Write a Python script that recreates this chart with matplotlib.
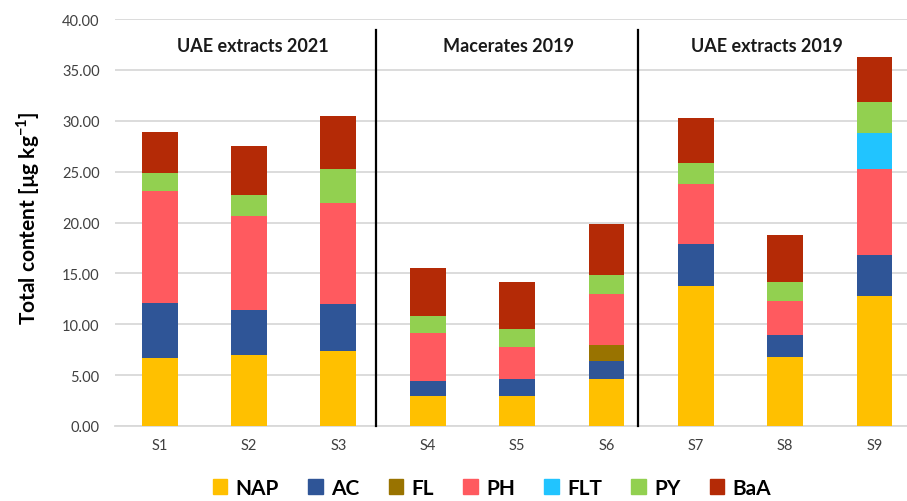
import numpy as np
import matplotlib
matplotlib.use("Agg")
import matplotlib.pyplot as plt
from matplotlib.patches import Patch

samples = ["S1", "S2", "S3", "S4", "S5", "S6", "S7", "S8", "S9"]
compounds = ["NAP", "AC", "FL", "PH", "FLT", "PY", "BaA"]

# values [ug kg-1]
nap = [6.70, 7.00, 7.35, 2.90, 2.95, 4.60, 13.75, 6.75, 12.75]
ac = [5.40, 4.40, 4.65, 1.55, 1.65, 1.75, 4.10, 2.15, 4.10]
fl = [0.00, 0.00, 0.00, 0.00, 0.00, 1.65, 0.00, 0.00, 0.00]
ph = [11.00, 9.20, 9.90, 4.65, 3.15, 5.00, 5.90, 3.35, 8.40]
flt = [0.00, 0.00, 0.00, 0.00, 0.00, 0.00, 0.00, 0.00, 3.50]
py = [1.80, 2.10, 3.40, 1.70, 1.80, 1.80, 2.05, 1.95, 3.05]
baa = [4.00, 4.80, 5.20, 4.70, 4.60, 5.10, 4.45, 4.55, 4.50]

groups = ["UAE extracts 2021", "Macerates 2019", "UAE extracts 2019"]
colors = ["#FFC000", "#2F5597", "#997300", "#FF5A5F", "#21C4FF", "#92D050", "#B42A06"]

plt.rcParams['font.family'] = ['Lato', 'DejaVu Sans']
plt.rcParams['mathtext.fontset'] = 'custom'
plt.rcParams['mathtext.rm'] = 'Lato'
plt.rcParams['mathtext.bf'] = 'Lato:bold'

fig = plt.figure(figsize=(9.07, 5.02), dpi=100)
ax = fig.add_axes([115 / 907, 1 - 427 / 502, 1 - 115 / 907, (427 - 20) / 502])

x = np.arange(len(samples))
bottom = np.zeros(len(samples))
series = [nap, ac, fl, ph, flt, py, baa]
for vals, col, name in zip(series, colors, compounds):
    vals = np.array(vals)
    ax.bar(x, vals, width=0.4, bottom=bottom, color=col, label=name, zorder=3)
    bottom += vals

ax.set_ylim(0, 40)
ax.set_xlim(-0.5, 8.365)
ax.set_yticks(np.arange(0, 41, 5))
ax.set_yticklabels([f"{v:.2f}" for v in np.arange(0, 41, 5)])
ax.set_xticks(x)
ax.set_xticklabels(samples)
ax.tick_params(axis='both', length=0, labelsize=10.5, colors="#404040")
ax.tick_params(axis='y', pad=11)
ax.tick_params(axis='x', pad=9)
ax.grid(axis='y', color="#D9D9D9", linewidth=1.3, zorder=0)
for s in ["top", "right", "left"]:
    ax.spines[s].set_visible(False)
ax.spines["bottom"].set_color("#D9D9D9")
ax.spines["bottom"].set_linewidth(1.3)

# group separators and titles
for xs in [2.42, 5.35]:
    ax.plot([xs, xs], [0, 38.9], color="black", linewidth=1.6, zorder=4, clip_on=False)
for gx, gname in zip([1.04, 3.9, 6.8], groups):
    ax.text(gx, 37.4, gname, ha="center", va="center", fontsize=13, fontweight="bold", color="#1a1a1a")

fig.text(28 / 907, 1 - 218 / 502, "Total content [µg kg$^{\\mathbf{-1}}$]", rotation=90,
         ha="center", va="center", fontsize=15, fontweight="bold")

handles = [Patch(color=c) for c in colors]
fig.legend(handles, compounds, loc="center", bbox_to_anchor=(492 / 907, 1 - 489 / 502), ncol=7,
           frameon=False, handlelength=0.7, handleheight=0.7, handletextpad=0.4,
           columnspacing=1.4, prop={"size": 15, "weight": "bold"})

fig.savefig("out.png", dpi=100)
